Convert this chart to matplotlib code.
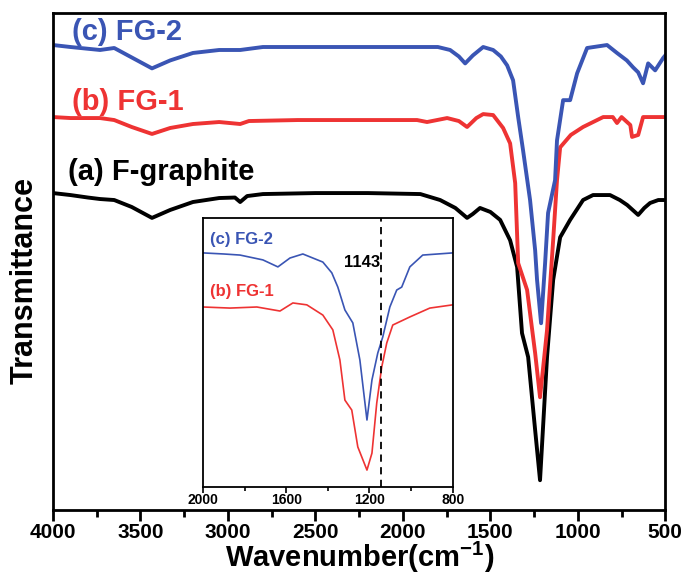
import matplotlib.pyplot as plt
from matplotlib.ticker import MultipleLocator, NullLocator

plt.rcParams['font.family'] = ['Liberation Sans', 'DejaVu Sans']
plt.rcParams['font.weight'] = 'bold'
plt.rcParams['mathtext.fontset'] = 'custom'
plt.rcParams['mathtext.rm'] = 'Liberation Sans:bold'
plt.rcParams['mathtext.bf'] = 'Liberation Sans:bold'

# -----------------------------
# FTIR spectra (wavenumber, transmittance a.u.)
# -----------------------------
wn_a = [4000, 3900, 3800, 3731, 3650, 3550, 3434, 3330, 3200, 3050, 2960, 2930, 2890,
        2800, 2500, 2200, 1900, 1787, 1700, 1633, 1600, 1559, 1500, 1444, 1387, 1347,
        1319, 1284, 1244, 1216, 1176, 1141, 1101, 1044, 970, 913, 816, 760, 718, 655,
        620, 587, 540, 500]
t_a = [63.8, 63.4, 62.9, 62.6, 62.4, 61.0, 58.8, 60.4, 62.0, 62.8, 62.9, 62.0, 63.2,
       63.6, 63.8, 63.8, 63.6, 62.4, 60.8, 58.8, 59.6, 60.8, 60.0, 58.4, 54.3, 48.9,
       35.6, 30.8, 16.1, 6.0, 30.8, 46.3, 54.9, 58.4, 62.4, 63.4, 63.4, 62.4, 61.4, 59.4,
       60.8, 61.8, 62.4, 62.4]

wn_b = [4000, 3900, 3731, 3650, 3550, 3434, 3330, 3200, 3050, 2930, 2880, 2600, 2300,
        1919, 1862, 1747, 1680, 1633, 1580, 1541, 1484, 1427, 1387, 1358, 1341, 1290,
        1244, 1216, 1176, 1141, 1119, 1101, 1040, 970, 855, 800, 776, 750, 700, 690,
        655, 627, 560, 500]
t_b = [79.1, 78.9, 78.9, 78.5, 77.1, 75.7, 76.9, 77.7, 78.1, 77.7, 78.3, 78.5, 78.5,
       78.5, 78.1, 78.9, 78.3, 77.1, 78.9, 79.7, 79.5, 76.9, 73.8, 65.8, 49.7, 44.3,
       31.6, 22.7, 36.2, 54.3, 66.4, 73.0, 75.5, 77.1, 79.1, 79.1, 77.9, 79.1, 77.5, 75.1,
       75.5, 79.1, 79.1, 79.1]

wn_c = [4000, 3900, 3731, 3650, 3550, 3434, 3330, 3200, 3050, 2930, 2800, 2200, 1800,
        1730, 1680, 1644, 1600, 1541, 1484, 1440, 1404, 1370, 1341, 1313, 1273, 1244,
        1233, 1210, 1187, 1170, 1130, 1119, 1084, 1044, 1004, 947, 833, 776, 720, 684,
        655, 627, 598, 558, 512, 500]
t_c = [93.6, 93.2, 92.6, 93.0, 91.1, 88.9, 90.5, 92.0, 92.6, 92.6, 93.2, 93.2, 93.2,
       92.6, 91.3, 89.9, 91.5, 93.2, 92.6, 91.3, 89.5, 86.5, 79.1, 72.4, 62.4, 52.3,
       46.3, 37.6, 49.7, 59.8, 66.4, 74.4, 82.5, 82.5, 87.9, 93.0, 93.6, 92.0, 90.5, 89.1,
       88.1, 85.9, 89.9, 88.5, 91.0, 91.5]

# Enlarged C-F region
wn_ins_c = [2000, 1900, 1822, 1712, 1640, 1582, 1520, 1424, 1381, 1352, 1318, 1280,
            1246, 1212, 1188, 1160, 1136, 1102, 1069, 1045, 1006, 944, 800]
t_ins_c = [87.0, 86.6, 86.2, 84.4, 81.8, 85.1, 86.6, 83.6, 79.6, 74.3, 65.8, 61.0,
           47.2, 24.9, 39.8, 49.8, 55.8, 66.9, 73.2, 74.3, 81.8, 86.2, 87.0]

wn_ins_b = [2000, 1870, 1741, 1630, 1568, 1501, 1424, 1376, 1342, 1318, 1285, 1256,
            1212, 1188, 1165, 1141, 1117, 1088, 1006, 910, 800]
t_ins_b = [66.9, 66.5, 66.9, 65.4, 68.4, 67.7, 63.9, 58.4, 47.2, 32.3, 28.6, 14.9,
           6.3, 12.6, 31.2, 44.6, 53.5, 60.2, 63.2, 66.5, 67.7]

peak_mark = 1143

blue = '#3a55b4'
red = '#ee3333'

# -----------------------------
# Main panel
# -----------------------------
fig = plt.figure(figsize=(6.88, 5.75), dpi=100)
ax = fig.add_axes([0.077, 0.113, 0.890, 0.864])

ax.plot(wn_a, t_a, color='black', lw=2.8)
ax.plot(wn_b, t_b, color=red, lw=2.8)
ax.plot(wn_c, t_c, color=blue, lw=2.8)

ax.set_xlim(4000, 500)
ax.set_ylim(0, 100)
ax.xaxis.set_major_locator(MultipleLocator(500))
ax.xaxis.set_minor_locator(MultipleLocator(250))
ax.yaxis.set_major_locator(NullLocator())
ax.tick_params(axis='x', which='major', direction='out', length=8, width=2,
               labelsize=15, pad=1, top=False)
ax.tick_params(axis='x', which='minor', direction='out', length=5, width=2, top=False)
for s in ax.spines.values():
    s.set_linewidth(2)

# axis titles placed on the figure
fig.text(0.522, 0.0, 'Wavenumber(cm$^{\\mathrm{-1}}$)', fontsize=21, fontweight='bold',
         ha='center', va='bottom')
fig.text(0.036, 0.513, 'Transmittance', rotation=90, fontsize=22, fontweight='bold',
         ha='center', va='center')

ax.text(3891, 96.2, '(c) FG-2', color=blue, fontsize=21, fontweight='bold', va='center')
ax.text(3891, 82.1, '(b) FG-1', color=red, fontsize=21, fontweight='bold', va='center')
ax.text(3914, 68.0, '(a) F-graphite', color='black', fontsize=21, fontweight='bold',
        va='center')

# -----------------------------
# Inset
# -----------------------------
ins = fig.add_axes([0.295, 0.153, 0.363, 0.468])
ins.plot(wn_ins_c, t_ins_c, color=blue, lw=1.2)
ins.plot(wn_ins_b, t_ins_b, color=red, lw=1.2)
ins.axvline(peak_mark, color='black', lw=1.3, ls=(0, (4, 3)))

ins.set_xlim(2000, 800)
ins.set_ylim(0, 100)
ins.xaxis.set_major_locator(MultipleLocator(400))
ins.xaxis.set_minor_locator(MultipleLocator(200))
ins.yaxis.set_major_locator(NullLocator())
ins.tick_params(axis='x', which='major', direction='out', length=4, width=1.2,
                labelsize=10, pad=0)
ins.tick_params(axis='x', which='minor', direction='out', length=3, width=1.2)
for lab in ins.get_xticklabels():
    lab.set_family(['Liberation Sans Narrow', 'Liberation Sans'])
for s in ins.spines.values():
    s.set_linewidth(1.3)

ins.text(1966, 92.0, '(c) FG-2', color=blue, fontsize=12, fontweight='bold', va='center')
ins.text(1966, 72.8, '(b) FG-1', color=red, fontsize=12, fontweight='bold', va='center')
ins.text(peak_mark + 5, 83.3, str(peak_mark), color='black', fontsize=12,
         fontweight='bold', va='center', ha='right')

fig.savefig('out.png', dpi=100)
